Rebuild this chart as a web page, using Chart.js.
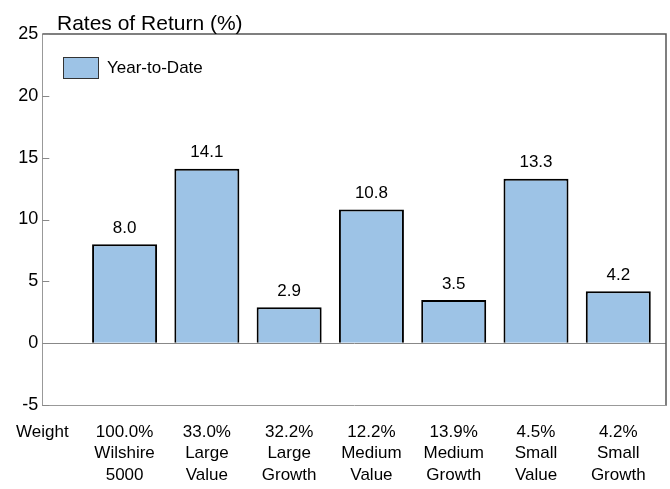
<!DOCTYPE html>
<html>
<head>
<meta charset="utf-8">
<script src="https://cdn.jsdelivr.net/npm/chart.js@4.4.1/dist/chart.umd.min.js"></script>
<style>
  html, body { margin: 0; padding: 0; background: #fff; }
  #wrap { width: 670px; height: 489px; position: relative; }
</style>
</head>
<body>
<div id="wrap"><canvas id="chart"></canvas></div>
<script>
// data
var TITLE = 'Rates of Return (%)';
var SERIES_LABEL = 'Year-to-Date';
var WEIGHT_LABEL = 'Weight';
var weights = ['100.0%', '33.0%', '32.2%', '12.2%', '13.9%', '4.5%', '4.2%'];
var categories = [
  ['Wilshire', '5000'],
  ['Large', 'Value'],
  ['Large', 'Growth'],
  ['Medium', 'Value'],
  ['Medium', 'Growth'],
  ['Small', 'Value'],
  ['Small', 'Growth'],
];
var ytd = [8.0, 14.1, 2.9, 10.8, 3.5, 13.3, 4.2];
var yTicks = [-5, 0, 5, 10, 15, 20, 25];

var FONT = '"Liberation Sans", Arial, sans-serif';
var FILL = '#9DC3E6';

// x position 0 is the "Weight" column, bars sit at 1..7
var points = ytd.map(function (v, i) { return { x: i + 1, y: v }; });

var framePlugin = {
  id: 'frame',
  afterDraw: function (chart) {
    var ctx = chart.ctx;
    var a = chart.chartArea;
    var ys = chart.scales.y;
    ctx.save();

    // top + right border
    ctx.strokeStyle = '#555';
    ctx.lineWidth = 1.5;
    ctx.beginPath();
    ctx.moveTo(a.left, a.top);
    ctx.lineTo(a.right, a.top);
    ctx.lineTo(a.right, a.bottom);
    ctx.stroke();

    // inward tick marks on the y axis
    ctx.strokeStyle = '#888';
    ctx.lineWidth = 1;
    yTicks.forEach(function (t) {
      var py = Math.round(ys.getPixelForValue(t)) + 0.5;
      ctx.beginPath();
      ctx.moveTo(a.left, py);
      ctx.lineTo(a.left + 7, py);
      ctx.stroke();
    });

    // title
    ctx.fillStyle = '#000';
    ctx.font = '21px ' + FONT;
    ctx.textAlign = 'left';
    ctx.textBaseline = 'alphabetic';
    ctx.fillText(TITLE, 57, 30);

    // legend
    ctx.fillStyle = FILL;
    ctx.fillRect(63.5, 57.5, 35, 21);
    ctx.strokeStyle = '#333';
    ctx.strokeRect(63.5, 57.5, 35, 21);
    ctx.fillStyle = '#000';
    ctx.font = '17px ' + FONT;
    ctx.textBaseline = 'middle';
    ctx.fillText(SERIES_LABEL, 107, 68);

    // value labels over bars
    var meta = chart.getDatasetMeta(0);
    ctx.textAlign = 'center';
    ctx.font = '17px ' + FONT;
    meta.data.forEach(function (bar, i) {
      ctx.fillText(ytd[i].toFixed(1), bar.x, bar.y - 16);
    });

    ctx.restore();
  },
};

new Chart(document.getElementById('chart'), {
  type: 'bar',
  plugins: [framePlugin],
  data: {
    datasets: [{
      label: SERIES_LABEL,
      data: points,
      backgroundColor: FILL,
      borderColor: '#000',
      borderWidth: 2,
      barPercentage: 0.79,
      categoryPercentage: 1,
    }],
  },
  options: {
    responsive: true,
    maintainAspectRatio: false,
    animation: false,
    layout: { padding: { top: 34, right: 4, left: 0, bottom: 0 } },
    plugins: {
      legend: { display: false },
      title: { display: false },
      tooltip: { enabled: false },
    },
    scales: {
      x: {
        type: 'linear',
        offset: false,
        min: 0,
        max: 7.58,
        afterBuildTicks: function (scale) {
          scale.ticks = [0, 1, 2, 3, 4, 5, 6, 7].map(function (v) { return { value: v }; });
        },
        afterFit: function (scale) { scale.height = 84; },
        grid: { display: false, drawTicks: false },
        border: { display: true, color: '#999', width: 1 },
        ticks: {
          autoSkip: false,
          maxRotation: 0,
          padding: 16,
          color: '#000',
          font: { family: FONT, size: 17, lineHeight: 1.28 },
          callback: function (v) {
            if (v === 0) { return WEIGHT_LABEL; }
            var i = v - 1;
            if (i < 0 || i >= categories.length || i !== Math.round(i)) { return ''; }
            return [weights[i]].concat(categories[i]);
          },
        },
      },
      y: {
        min: -5,
        max: 25,
        afterFit: function (scale) { scale.width = 41; },
        afterBuildTicks: function (scale) {
          scale.ticks = yTicks.map(function (v) { return { value: v }; });
        },
        grid: {
          drawTicks: false,
          color: function (c) { return c.tick && c.tick.value === 0 ? '#888' : 'rgba(0,0,0,0)'; },
        },
        border: { display: true, color: '#999', width: 1 },
        ticks: {
          padding: 4,
          color: '#000',
          font: { family: FONT, size: 18 },
        },
      },
    },
  },
});
</script>
</body>
</html>
